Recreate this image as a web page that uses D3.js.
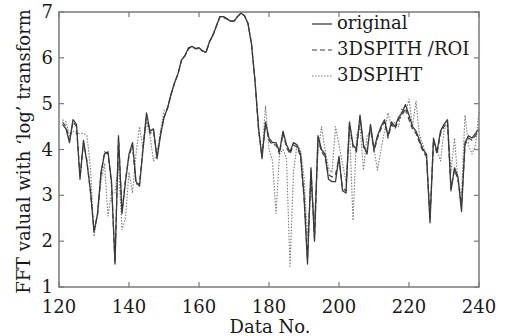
<!DOCTYPE html>
<html>
<head>
<meta charset="utf-8">
<script src="https://cdn.jsdelivr.net/npm/d3@7"></script>
<style>
  body { margin: 0; background: #fff; }
  text { font-family: "DejaVu Serif", "Liberation Serif", serif; fill: #1a1a1a; }
</style>
</head>
<body>
<div id="chart"></div>
<script>
// data no. 121..240
const firstNo = 121;
const original = [
  4.55, 4.45, 4.15, 4.65, 4.55, 3.35, 4.2, 3.7, 3.1, 2.2,
  2.6, 3.5, 3.9, 3.95, 3.3, 1.5, 4.3, 2.6, 3.3, 3.9,
  4.15, 3.3, 3.2, 4.0, 4.8, 4.4, 4.45, 3.8, 4.3, 4.7,
  4.9, 5.2, 5.45, 5.65, 5.95, 6.05, 6.22, 6.25, 6.2, 6.22,
  6.15, 6.12, 6.35, 6.5, 6.7, 6.9, 6.9, 6.85, 6.8, 6.8,
  6.9, 6.98, 6.92, 6.75, 6.3, 5.5, 4.5, 3.8, 4.6, 4.25,
  4.15, 4.15, 3.95, 4.4, 4.1, 3.95, 4.15, 4.1, 3.9, 3.0,
  1.5, 3.6, 2.0, 4.3, 4.0, 3.9, 3.35, 3.3, 3.3, 3.85,
  3.1, 3.05, 4.6, 4.1, 4.0, 4.75, 4.1, 3.9, 4.55, 4.0,
  4.3, 4.5, 4.65, 4.3, 4.6, 4.5, 4.7, 4.8, 4.98, 4.75,
  4.5, 4.4, 4.2, 4.0, 3.9, 2.4, 4.25, 3.95, 4.4, 4.55,
  4.65, 3.1, 3.6, 3.4, 2.65, 4.15, 4.3, 4.25, 4.35, 4.45
];
const roi = [
  4.6, 4.5, 4.2, 4.6, 4.5, 3.4, 4.15, 3.75, 3.05, 2.25,
  2.55, 3.45, 3.95, 3.9, 3.25, 1.55, 4.25, 2.65, 3.35, 3.85,
  4.1, 3.25, 3.25, 4.05, 4.75, 4.35, 4.4, 3.85, 4.35, 4.7,
  4.9, 5.2, 5.45, 5.65, 5.95, 6.05, 6.2, 6.25, 6.2, 6.2,
  6.15, 6.12, 6.35, 6.5, 6.7, 6.9, 6.88, 6.85, 6.8, 6.8,
  6.9, 6.97, 6.92, 6.75, 6.3, 5.5, 4.45, 3.85, 4.55, 4.2,
  4.1, 4.1, 3.9, 4.35, 4.05, 3.9, 4.1, 4.05, 3.85, 2.95,
  1.6, 3.55, 2.05, 4.25, 3.95, 3.85, 3.45, 3.4, 3.45, 3.8,
  3.15, 3.1, 4.55, 4.05, 3.95, 4.7, 4.05, 3.95, 4.5, 3.95,
  4.25, 4.45, 4.6, 4.25, 4.55, 4.45, 4.65, 4.75, 4.9, 4.65,
  4.45, 4.35, 4.15, 3.95, 3.85, 2.5, 4.2, 3.9, 4.35, 4.5,
  4.6, 3.15, 3.55, 3.35, 2.75, 4.1, 4.25, 4.2, 4.3, 4.4
];
const spiht = [
  4.65, 4.6, 4.3, 4.4, 4.35, 4.35, 4.35, 4.3, 3.6, 2.1,
  2.6, 3.3, 3.7, 2.55, 3.05, 3.05, 3.7, 2.25, 2.5, 3.5,
  3.05, 3.9, 4.5, 4.0, 4.6, 4.3, 3.75, 3.9, 4.4, 4.85,
  4.9, 5.2, 5.45, 5.65, 5.95, 6.05, 6.2, 6.25, 6.2, 6.22,
  6.15, 6.12, 6.35, 6.5, 6.7, 6.9, 6.9, 6.85, 6.8, 6.8,
  6.9, 6.98, 6.92, 6.75, 6.3, 5.5, 4.4, 3.85, 4.95, 4.0,
  3.75, 2.6, 3.9, 4.0, 3.8, 1.45, 3.5, 4.1, 4.0, 3.4,
  2.1, 3.2, 2.5, 3.9, 4.5, 4.0, 3.6, 3.5, 4.5, 4.1,
  3.7, 3.3, 4.5, 2.45, 4.3, 4.5, 3.55, 4.3, 4.4, 4.0,
  3.55, 4.0, 4.4, 4.8, 4.5, 4.6, 4.5, 4.9, 4.8, 5.1,
  4.5, 5.05, 4.3, 4.1, 3.8, 2.5, 4.15, 4.0, 3.75, 4.4,
  4.6, 3.5, 4.25, 3.3, 3.0, 4.75, 4.1, 3.9, 4.1, 4.85
];
const xTicks = [120, 140, 160, 180, 200, 220, 240];
const yTicks = [1, 2, 3, 4, 5, 6, 7];
const series = [
  {name: 'original', values: original},
  {name: '3DSPITH /ROI', values: roi},
  {name: '3DSPIHT', values: spiht}
];

const width = 507, height = 336;
const margin = {top: 12, right: 28, bottom: 49, left: 59};
const cw = width - margin.left - margin.right,
      ch = height - margin.top - margin.bottom;

const styles = {
  'original':     {stroke: '#3a3a3a', width: 1.3, dash: null},
  '3DSPITH /ROI': {stroke: '#3f3f3f', width: 1.2, dash: '5,3'},
  '3DSPIHT':      {stroke: '#7a7a7a', width: 1.1, dash: '1.5,1.5'}
};

const svg = d3.select('#chart').append('svg')
  .attr('width', width).attr('height', height);

const x = d3.scaleLinear().domain([120, 240]).range([0, cw]);
const y = d3.scaleLinear().domain([1, 7]).range([ch, 0]);

const g = svg.append('g').attr('transform', `translate(${margin.left},${margin.top})`);

const line = d3.line()
  .x((d, i) => x(firstNo + i))
  .y(d => y(d));

// dotted first so the solid one lies on top
g.selectAll('path.series')
  .data(series.slice().reverse())
  .join('path').attr('class', 'series')
  .attr('d', d => line(d.values))
  .attr('fill', 'none')
  .attr('stroke', d => styles[d.name].stroke)
  .attr('stroke-width', d => styles[d.name].width)
  .attr('stroke-dasharray', d => styles[d.name].dash)
  .attr('stroke-linejoin', 'round');

// frame + inward ticks on all sides
const axisColor = '#7a7a7a';
const tk = 5;
g.append('rect').attr('width', cw).attr('height', ch)
  .attr('fill', 'none').attr('stroke', axisColor).attr('stroke-width', 1.5);

g.selectAll('line.xt')
  .data(xTicks.flatMap(t => [[t, ch, ch - tk], [t, 0, tk]]))
  .join('line').attr('class', 'xt')
  .attr('x1', d => x(d[0])).attr('x2', d => x(d[0]))
  .attr('y1', d => d[1]).attr('y2', d => d[2])
  .attr('stroke', axisColor).attr('stroke-width', 1.2);

g.selectAll('line.yt')
  .data(yTicks.flatMap(t => [[t, 0, tk], [t, cw, cw - tk]]))
  .join('line').attr('class', 'yt')
  .attr('y1', d => y(d[0])).attr('y2', d => y(d[0]))
  .attr('x1', d => d[1]).attr('x2', d => d[2])
  .attr('stroke', axisColor).attr('stroke-width', 1.2);

g.selectAll('text.xl')
  .data(xTicks)
  .join('text').attr('class', 'xl')
  .attr('x', d => x(d)).attr('y', ch + 26)
  .attr('text-anchor', 'middle')
  .attr('font-size', 18)
  .text(d => d);

g.selectAll('text.yl')
  .data(yTicks)
  .join('text').attr('class', 'yl')
  .attr('x', -6).attr('y', d => y(d) + 6)
  .attr('text-anchor', 'end')
  .attr('font-size', 18)
  .text(d => d);

svg.append('text')
  .attr('x', margin.left + cw / 2 + 1).attr('y', height - 3)
  .attr('text-anchor', 'middle')
  .attr('font-size', 18)
  .text('Data No.');

svg.append('text')
  .attr('transform', `translate(30, ${margin.top + ch / 2 + 2}) rotate(-90)`)
  .attr('text-anchor', 'middle')
  .attr('font-size', 18)
  .text('FFT valual with \u2018log\u2019 transform');

// legend
const legend = svg.append('g').attr('transform', 'translate(312, 24)');
const items = legend.selectAll('g.item')
  .data(series)
  .join('g').attr('class', 'item')
  .attr('transform', (d, i) => `translate(0, ${i * 26})`);
items.append('line')
  .attr('x1', 0).attr('x2', 20).attr('y1', 0).attr('y2', 0)
  .attr('stroke', d => styles[d.name].stroke)
  .attr('stroke-width', d => styles[d.name].width)
  .attr('stroke-dasharray', d => styles[d.name].dash);
items.append('text')
  .attr('x', 25).attr('y', 5)
  .attr('font-size', 18)
  .text(d => d.name);
</script>
</body>
</html>
